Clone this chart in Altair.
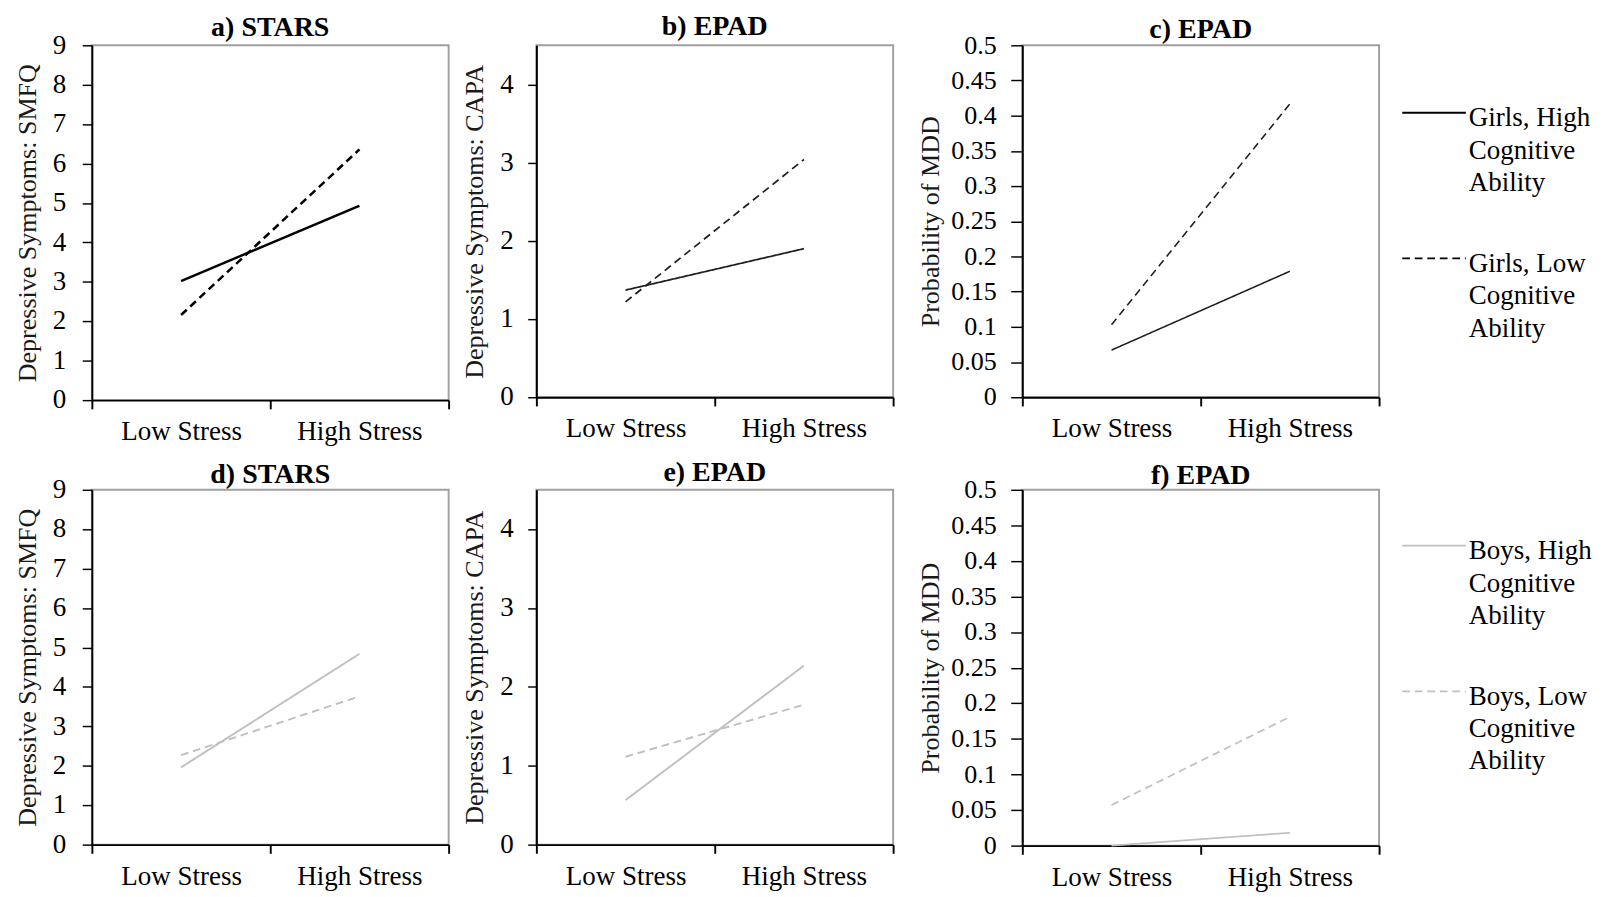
import altair as alt
import pandas as pd

FONT = "Liberation Serif"

stress_levels = ["Low Stress", "High Stress"]

panel_titles = ["a) STARS", "b) EPAD", "c) EPAD", "d) STARS", "e) EPAD", "f) EPAD"]
y_titles = ["Depressive Symptoms:  SMFQ", "Depressive Symptoms:  CAPA", "Probability  of MDD"]

girls_names = ["Girls, High Cognitive Ability", "Girls, Low Cognitive Ability"]
boys_names = ["Boys, High Cognitive Ability", "Boys, Low Cognitive Ability"]
girls_legend = ["Girls, High\nCognitive\nAbility", "Girls, Low\nCognitive\nAbility"]
boys_legend = ["Boys, High\nCognitive\nAbility", "Boys, Low\nCognitive\nAbility"]

# values: [Low Stress, High Stress]
girls_high_smfq = [3.02, 4.93]
girls_low_smfq = [2.16, 6.36]
girls_high_capa = [1.37, 1.90]
girls_low_capa = [1.22, 3.04]
girls_high_mdd = [0.067, 0.179]
girls_low_mdd = [0.103, 0.417]

boys_high_smfq = [1.96, 4.84]
boys_low_smfq = [2.27, 3.76]
boys_high_capa = [0.565, 2.27]
boys_low_capa = [1.115, 1.775]
boys_high_mdd = [0.0, 0.018]
boys_low_mdd = [0.057, 0.181]

smfq_ticks = [0, 1, 2, 3, 4, 5, 6, 7, 8, 9]
capa_ticks = [0, 1, 2, 3, 4]
mdd_ticks = [0, 0.05, 0.1, 0.15, 0.2, 0.25, 0.3, 0.35, 0.4, 0.45, 0.5]

W = 370


def make_df(names, high_vals, low_vals):
    rows = []
    for s, v in zip(stress_levels, high_vals):
        rows.append({"stress": s, "value": v, "series": names[0]})
    for s, v in zip(stress_levels, low_vals):
        rows.append({"stress": s, "value": v, "series": names[1]})
    return pd.DataFrame(rows)


def panel(title, ytitle, df, names, ydomain, yticks, fmt, color, width_px, dash,
          height, extent, tpad, ticksize, lpad, toff, lfs):
    return alt.Chart(df).mark_line(strokeCap="butt").encode(
        x=alt.X("stress:N", sort=stress_levels, bandPosition=0.5,
                scale=alt.Scale(type="band", paddingInner=0, paddingOuter=0),
                axis=alt.Axis(title=None, labelAngle=0, tickBand="extent",
                              domainColor="black", domainWidth=2,
                              tickColor="black", tickWidth=2, tickSize=9,
                              labelPadding=10, labelFont=FONT, labelFontSize=28,
                              labelColor="black", grid=False)),
        y=alt.Y("value:Q",
                scale=alt.Scale(domain=ydomain, nice=False, zero=True),
                axis=alt.Axis(values=yticks, format=fmt, title=ytitle,
                              titleFont=FONT, titleFontSize=27,
                              titleFontWeight="normal", titleColor="#1a1a1a",
                              titlePadding=tpad, minExtent=extent, maxExtent=extent,
                              labelFont=FONT, labelFontSize=lfs, labelColor="black",
                              labelPadding=lpad, tickSize=ticksize, tickColor="black",
                              tickWidth=1.5, domainColor="black", domainWidth=2,
                              grid=False)),
        strokeDash=alt.StrokeDash("series:N",
                                  scale=alt.Scale(domain=names, range=[[1, 0], dash]),
                                  legend=None),
        color=alt.value(color),
        strokeWidth=alt.value(width_px),
    ).properties(
        width=W, height=height,
        title=alt.TitleParams(title, font=FONT, fontSize=29, fontWeight="bold",
                              anchor="middle", frame="group", offset=toff, color="black"),
    )


def legend(labels, color, width_px, dash, height, y_range):
    ldf = pd.DataFrame({"label": labels})
    ys = alt.Y("label:N", sort=labels,
               scale=alt.Scale(type="point", domain=labels, range=y_range, padding=0),
               axis=None)
    lines = alt.Chart(ldf).mark_rule(strokeCap="butt").encode(
        y=ys,
        x=alt.value(0), x2=alt.value(66),
        strokeDash=alt.StrokeDash("label:N",
                                  scale=alt.Scale(domain=labels, range=[[1, 0], dash]),
                                  legend=None),
        color=alt.value(color),
        strokeWidth=alt.value(width_px),
    )
    texts = alt.Chart(ldf).mark_text(align="left", baseline="alphabetic", dy=14,
                                     lineBreak="\n", lineHeight=33.5, font=FONT,
                                     fontSize=28, color="black").encode(
        y=ys, x=alt.value(69), text="label:N")
    return alt.layer(lines, texts).properties(
        width=190, height=height,
        view=alt.ViewBackground(strokeOpacity=0))


BLACK = "#000000"
DARK = "#1f1f1f"
GRAY = "#c0c0c0"

pa = panel(panel_titles[0], y_titles[0], make_df(girls_names, girls_high_smfq, girls_low_smfq),
           girls_names, [0, 9], smfq_ticks, "d", BLACK, 2.6, [8, 5], 368, 42, 10, 10, 17, -10, 28)
pb = panel(panel_titles[1], y_titles[1], make_df(girls_names, girls_high_capa, girls_low_capa),
           girls_names, [0, 4.5], capa_ticks, "d", DARK, 1.8, [6, 5], 365, 38, 12, 9, 15, 5, 28)
pc = panel(panel_titles[2], y_titles[2], make_df(girls_names, girls_high_mdd, girls_low_mdd),
           girls_names, [0, 0.5], mdd_ticks, ".2~f", DARK, 1.6, [5, 4], 365, 75, 6, 12, 15, -12, 27)
leg1 = legend(girls_legend, BLACK, 2, [5, 4], 365, [70, 221])

pd_ = panel(panel_titles[3], y_titles[0], make_df(boys_names, boys_high_smfq, boys_low_smfq),
            boys_names, [0, 9], smfq_ticks, "d", GRAY, 2, [8, 6], 368, 42, 10, 10, 17, -13, 28)
pe = panel(panel_titles[4], y_titles[1], make_df(boys_names, boys_high_capa, boys_low_capa),
           boys_names, [0, 4.5], capa_ticks, "d", GRAY, 2, [7, 6], 368, 38, 12, 9, 15, 3, 28)
pf = panel(panel_titles[5], y_titles[2], make_df(boys_names, boys_high_mdd, boys_low_mdd),
           boys_names, [0, 0.5], mdd_ticks, ".2~f", GRAY, 1.8, [5, 4], 369, 75, 6, 12, 15, -14, 27)
leg2 = legend(boys_legend, GRAY, 1.8, [5, 4], 369, [58, 209])


def row(p1, p2, p3, lg):
    return alt.hconcat(alt.hconcat(alt.hconcat(p1, p2, spacing=10), p3, spacing=22),
                       lg, spacing=21)


row1 = row(pa, pb, pc, leg1)
row2 = row(pd_, pe, pf, leg2)

chart = alt.vconcat(row1, row2, spacing=12).properties(
    padding={"left": 6, "top": -13, "right": 5, "bottom": 0}
).configure(font=FONT).configure_view(stroke="#a0a0a0", strokeWidth=2)

chart.save("out.html", embed_options={"renderer": "svg", "actions": False})
